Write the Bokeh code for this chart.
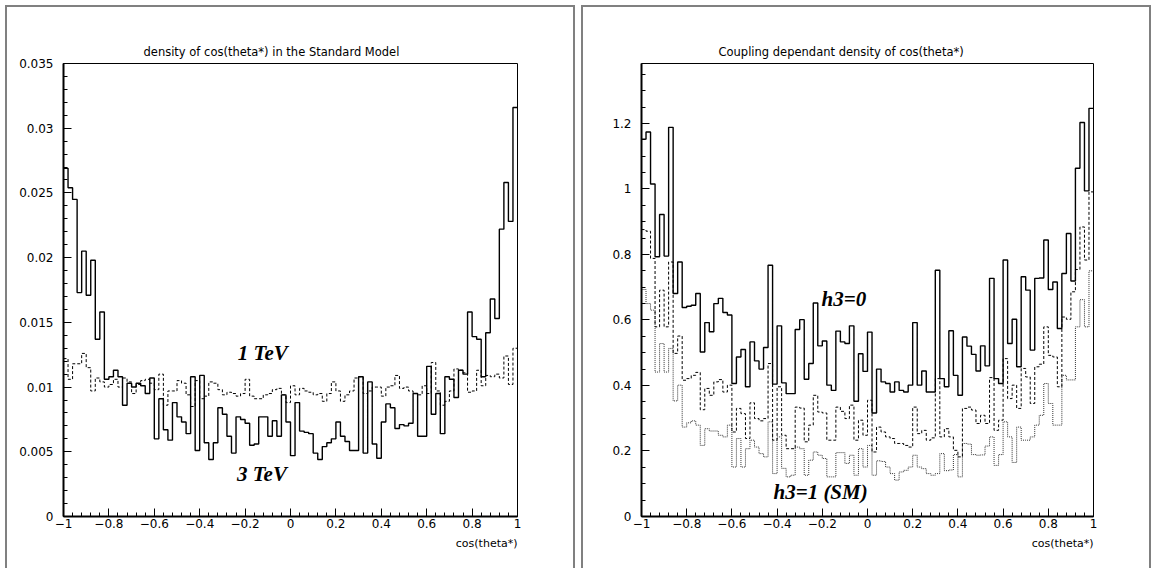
import numpy as np
from bokeh.plotting import figure
from bokeh.layouts import row
from bokeh.models import (SingleIntervalTicker, CustomJSTickFormatter, Label,
                          Title, Range1d)
from bokeh.embed import file_html
from bokeh.resources import INLINE

# ---------------- data ----------------
n_bins = 100
x_lo, x_hi = -1.0, 1.0

left_title = "density of cos(theta*) in the Standard Model"
right_title = "Coupling dependant density of cos(theta*)"
x_label = "cos(theta*)"

# left panel: 3 TeV (solid) and 1 TeV (dotted)
tev3 = [0.0269, 0.0254, 0.0245, 0.0173, 0.0205, 0.0171, 0.0198, 0.0137, 0.0158, 0.0106,
        0.0108, 0.0113, 0.0108, 0.0086, 0.0103, 0.0100, 0.0103, 0.0101, 0.0095, 0.0107,
        0.0060, 0.0091, 0.0067, 0.0059, 0.0088, 0.0077, 0.0073, 0.0064, 0.0108, 0.0051,
        0.0109, 0.0057, 0.0044, 0.0057, 0.0084, 0.0079, 0.0062, 0.0049, 0.0077, 0.0075,
        0.0072, 0.0055, 0.0056, 0.0077, 0.0077, 0.0062, 0.0074, 0.0062, 0.0094, 0.0073,
        0.0047, 0.0088, 0.0066, 0.0065, 0.0064, 0.0049, 0.0044, 0.0054, 0.0057, 0.0060,
        0.0073, 0.0062, 0.0058, 0.0051, 0.0051, 0.0108, 0.0049, 0.0104, 0.0056, 0.0045,
        0.0073, 0.0087, 0.0084, 0.0068, 0.0071, 0.0070, 0.0072, 0.0095, 0.0062, 0.0062,
        0.0116, 0.0079, 0.0095, 0.0064, 0.0108, 0.0106, 0.0092, 0.0113, 0.0110, 0.0158,
        0.0139, 0.0137, 0.0108, 0.0142, 0.0168, 0.0153, 0.0222, 0.0258, 0.0228, 0.0316]
tev1 = [0.0122, 0.0106, 0.0118, 0.0118, 0.0126, 0.0115, 0.0097, 0.0107, 0.0104, 0.0100,
        0.0102, 0.0106, 0.0100, 0.0107, 0.0104, 0.0095, 0.0102, 0.0105, 0.0106, 0.0103,
        0.0098, 0.0110, 0.0086, 0.0097, 0.0097, 0.0105, 0.0103, 0.0094, 0.0085, 0.0105,
        0.0091, 0.0093, 0.0104, 0.0103, 0.0098, 0.0094, 0.0096, 0.0095, 0.0093, 0.0095,
        0.0106, 0.0093, 0.0091, 0.0091, 0.0094, 0.0095, 0.0098, 0.0099, 0.0094, 0.0088,
        0.0101, 0.0094, 0.0099, 0.0097, 0.0096, 0.0094, 0.0095, 0.0089, 0.0095, 0.0104,
        0.0097, 0.0089, 0.0094, 0.0097, 0.0107, 0.0108, 0.0095, 0.0097, 0.0100, 0.0100,
        0.0093, 0.0100, 0.0101, 0.0109, 0.0099, 0.0100, 0.0097, 0.0095, 0.0094, 0.0101,
        0.0095, 0.0119, 0.0097, 0.0086, 0.0089, 0.0097, 0.0114, 0.0113, 0.0111, 0.0096,
        0.0097, 0.0113, 0.0101, 0.0109, 0.0108, 0.0110, 0.0107, 0.0124, 0.0102, 0.0130]

# right panel: h3=0 (solid), intermediate (dashed), h3=1 SM (dotted)
h3_0 = [1.152, 1.174, 1.015, 0.793, 0.922, 0.795, 1.188, 0.681, 0.777, 0.638,
        0.642, 0.645, 0.681, 0.502, 0.592, 0.564, 0.650, 0.666, 0.623, 0.615,
        0.406, 0.487, 0.510, 0.396, 0.533, 0.475, 0.450, 0.516, 0.767, 0.404,
        0.582, 0.408, 0.375, 0.375, 0.571, 0.601, 0.419, 0.467, 0.652, 0.521,
        0.536, 0.401, 0.385, 0.566, 0.533, 0.528, 0.582, 0.352, 0.497, 0.443,
        0.563, 0.316, 0.450, 0.411, 0.406, 0.380, 0.411, 0.385, 0.380, 0.401,
        0.592, 0.401, 0.444, 0.380, 0.380, 0.752, 0.421, 0.396, 0.567, 0.431,
        0.370, 0.548, 0.520, 0.495, 0.444, 0.521, 0.460, 0.727, 0.421, 0.406,
        0.783, 0.528, 0.602, 0.457, 0.732, 0.691, 0.508, 0.727, 0.728, 0.844,
        0.693, 0.716, 0.574, 0.742, 0.864, 0.719, 1.063, 1.203, 0.994, 1.246]
h3_mid = [0.876, 0.871, 0.788, 0.579, 0.691, 0.579, 0.777, 0.498, 0.551, 0.416,
          0.421, 0.431, 0.440, 0.326, 0.391, 0.370, 0.411, 0.418, 0.380, 0.401,
          0.258, 0.330, 0.314, 0.238, 0.347, 0.299, 0.292, 0.299, 0.467, 0.233,
          0.396, 0.248, 0.207, 0.207, 0.334, 0.331, 0.228, 0.279, 0.370, 0.319,
          0.316, 0.233, 0.233, 0.334, 0.321, 0.299, 0.340, 0.233, 0.294, 0.248,
          0.355, 0.197, 0.273, 0.258, 0.243, 0.238, 0.223, 0.223, 0.217, 0.212,
          0.334, 0.253, 0.263, 0.233, 0.240, 0.421, 0.243, 0.268, 0.243, 0.202,
          0.182, 0.330, 0.334, 0.325, 0.284, 0.309, 0.284, 0.424, 0.263, 0.294,
          0.482, 0.360, 0.401, 0.330, 0.452, 0.426, 0.345, 0.457, 0.465, 0.579,
          0.492, 0.487, 0.396, 0.609, 0.602, 0.686, 0.754, 0.884, 0.783, 0.991]
h3_1 = [0.693, 0.650, 0.630, 0.441, 0.528, 0.441, 0.513, 0.353, 0.401, 0.273,
        0.286, 0.292, 0.279, 0.217, 0.268, 0.261, 0.261, 0.248, 0.243, 0.279,
        0.151, 0.238, 0.151, 0.207, 0.233, 0.212, 0.192, 0.182, 0.289, 0.131,
        0.243, 0.147, 0.121, 0.126, 0.212, 0.207, 0.126, 0.172, 0.197, 0.187,
        0.177, 0.121, 0.121, 0.195, 0.195, 0.162, 0.187, 0.126, 0.207, 0.151,
        0.217, 0.126, 0.170, 0.168, 0.151, 0.131, 0.111, 0.136, 0.141, 0.151,
        0.187, 0.151, 0.146, 0.131, 0.126, 0.131, 0.192, 0.140, 0.142, 0.189,
        0.121, 0.223, 0.221, 0.189, 0.187, 0.188, 0.215, 0.243, 0.156, 0.189,
        0.289, 0.243, 0.165, 0.273, 0.233, 0.233, 0.243, 0.279, 0.309, 0.406,
        0.345, 0.279, 0.279, 0.431, 0.417, 0.417, 0.579, 0.662, 0.579, 0.750]

# ---------------- helpers ----------------
edges = np.linspace(x_lo, x_hi, n_bins + 1)
step_x = np.repeat(edges, 2)[1:-1]


def step_y(vals):
    return np.repeat(np.asarray(vals, dtype=float), 2)


FONT = "DejaVu Sans"
SERIF = "Liberation Serif"
GRAY = "#808080"

x_fmt = CustomJSTickFormatter(code="""
    if (Math.abs(tick) < 1e-9) return "0";
    return parseFloat(tick.toFixed(3)).toString().replace("-", "\u2212");
""")
y_fmt = CustomJSTickFormatter(code="""
    if (Math.abs(tick) < 1e-12) return "0";
    return parseFloat(tick.toFixed(4)).toString();
""")


def frame_css(left_px, right_px, top_px):
    g = f"linear-gradient({GRAY},{GRAY})"
    return {
        "background-image": f"{g},{g},{g}",
        "background-size": f"2px 100%, 2px 100%, {right_px - left_px + 2}px 2px",
        "background-position": f"{left_px}px {top_px}px, {right_px}px {top_px}px, {left_px}px {top_px}px",
        "background-repeat": "no-repeat",
        "background-color": "white",
    }


def make_panel(title, ymax, y_interval, y_minor, frame_left, frame_right_border,
               title_offset, box):
    p = figure(width=577, height=568, output_backend="svg", toolbar_location=None,
               x_range=Range1d(x_lo, x_hi), y_range=Range1d(0, ymax),
               min_border_left=frame_left, min_border_right=frame_right_border,
               min_border_top=63, min_border_bottom=52,
               styles=frame_css(*box))
    p.border_fill_color = None
    p.background_fill_color = "white"
    p.grid.visible = False
    p.outline_line_color = "black"
    p.outline_line_width = 1
    p.outline_line_alpha = 1
    p.title.text = title
    p.title.align = "left"
    p.title.offset = title_offset
    p.title.text_font = FONT
    p.title.text_font_size = "11.5px"
    p.title.text_font_style = "normal"
    p.title.text_color = "black"
    p.title.standoff = 10
    p.xaxis.ticker = SingleIntervalTicker(interval=0.2, num_minor_ticks=5)
    p.yaxis.ticker = SingleIntervalTicker(interval=y_interval, num_minor_ticks=y_minor)
    p.xaxis.formatter = x_fmt
    p.yaxis.formatter = y_fmt
    for ax in (p.xaxis[0], p.yaxis[0]):
        ax.axis_line_color = "black"
        ax.axis_line_width = 2
        ax.major_tick_in = 8
        ax.major_tick_out = 0
        ax.minor_tick_in = 4
        ax.minor_tick_out = 0
        ax.major_tick_line_color = "black"
        ax.minor_tick_line_color = "black"
        ax.major_tick_line_width = 1
        ax.minor_tick_line_width = 1
        ax.major_label_text_font = FONT
        ax.major_label_text_font_size = "12px"
        ax.major_label_text_color = "black"
    p.xaxis.major_label_standoff = 2
    p.yaxis.major_label_standoff = 10
    p.add_layout(Title(text=x_label, align="right", text_font=FONT,
                       text_font_size="11px", text_font_style="normal",
                       text_color="black", standoff=9), "below")
    return p


def tag(p, x, y, text):
    p.add_layout(Label(x=x, y=y, text=text, text_align="left", text_baseline="middle",
                       text_font=SERIF, text_font_size="21px",
                       text_font_style="bold italic", text_color="black"))


# ---------------- left panel ----------------
pl = make_panel(left_title, 0.035, 0.005, 5, 63, 60, 80, (5, 573, 5))
pl.line(step_x, step_y(tev1), line_color="black", line_width=1, line_dash="3 2")
pl.line(step_x, step_y(tev3), line_color="black", line_width=1.4)
tag(pl, -0.232, 0.0126, "1 TeV")
tag(pl, -0.236, 0.0033, "3 TeV")

# ---------------- right panel ----------------
pr = make_panel(right_title, 1.383, 0.2, 4, 64, 61, 77, (4, 572, 5))
pr.line(step_x, step_y(h3_1), line_color="#333333", line_width=1, line_dash="1 1")
pr.line(step_x, step_y(h3_mid), line_color="black", line_width=1, line_dash="3 2")
pr.line(step_x, step_y(h3_0), line_color="black", line_width=1.4)
tag(pr, -0.2035, 0.663, "h3=0")
tag(pr, -0.416, 0.074, "h3=1 (SM)")

layout = row(pl, pr, spacing=0)
open("out.html", "w").write(file_html(layout, INLINE))
